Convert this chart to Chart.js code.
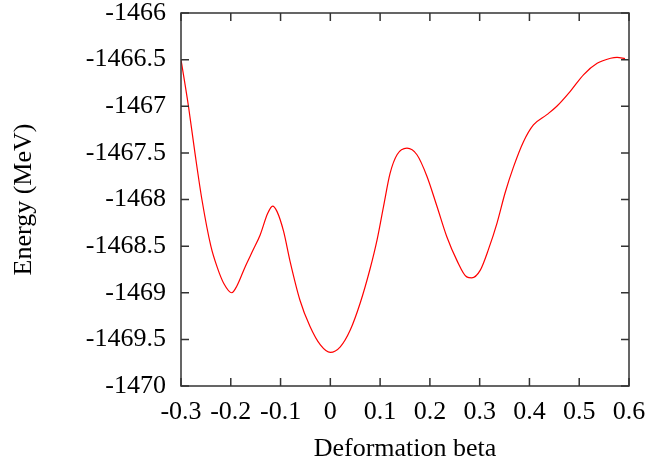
<!DOCTYPE html>
<html>
<head>
<meta charset="utf-8">
<script src="https://cdn.jsdelivr.net/npm/chart.js@4/dist/chart.umd.min.js"></script>
<style>
    html, body { margin: 0; padding: 0; background: #fff; }
    #wrap { width: 652px; height: 465px; }
</style>
</head>
<body>
<div id="wrap"><canvas id="graph"></canvas></div>
<script>
// values
const beta = [-0.3, -0.285, -0.272, -0.258, -0.24, -0.227, -0.214, -0.198, -0.188, -0.171,
    -0.155, -0.141, -0.126, -0.116, -0.107, -0.094, -0.081, -0.061, -0.041, -0.02,
    0.0, 0.02, 0.04, 0.06, 0.08, 0.094, 0.107, 0.12, 0.134, 0.154,
    0.174, 0.194, 0.214, 0.234, 0.254, 0.274, 0.284, 0.301, 0.318, 0.335,
    0.351, 0.368, 0.388, 0.408, 0.435, 0.455, 0.482, 0.509, 0.536, 0.563,
    0.576, 0.592];
const energy = [-1466.5, -1467.0, -1467.5, -1468.0, -1468.5, -1468.73, -1468.9, -1469.0, -1468.93, -1468.72,
    -1468.54, -1468.38, -1468.15, -1468.07, -1468.13, -1468.34, -1468.66, -1469.08, -1469.36, -1469.56,
    -1469.64, -1469.58, -1469.4, -1469.11, -1468.74, -1468.43, -1468.07, -1467.72, -1467.52, -1467.45,
    -1467.52, -1467.75, -1468.07, -1468.4, -1468.65, -1468.83, -1468.84, -1468.76, -1468.53, -1468.25,
    -1467.93, -1467.65, -1467.38, -1467.2, -1467.09, -1467.0, -1466.84, -1466.66, -1466.54, -1466.485,
    -1466.475, -1466.49];

const xTickValues = [-0.3, -0.2, -0.1, 0, 0.1, 0.2, 0.3, 0.4, 0.5, 0.6];
const xTickLabels = ['-0.3', '-0.2', '-0.1', '0', '0.1', '0.2', '0.3', '0.4', '0.5', '0.6'];
const yTickValues = [-1470, -1469.5, -1469, -1468.5, -1468, -1467.5, -1467, -1466.5, -1466];
const yTickLabels = ['-1470', '-1469.5', '-1469', '-1468.5', '-1468', '-1467.5', '-1467', '-1466.5', '-1466'];

const serif = "'Liberation Serif', 'DejaVu Serif', serif";

// gnuplot style box with inward ticks on all four sides
const frame = {
    id: 'frame',
    afterDatasetsDraw(chart) {
        const ctx = chart.ctx;
        const a = chart.chartArea;
        const len = 8;
        ctx.save();
        ctx.strokeStyle = '#333';
        ctx.lineWidth = 1.5;
        ctx.strokeRect(a.left, a.top, a.right - a.left, a.bottom - a.top);
        ctx.beginPath();
        chart.scales.x.ticks.forEach(t => {
            const px = chart.scales.x.getPixelForValue(t.value);
            ctx.moveTo(px, a.bottom); ctx.lineTo(px, a.bottom - len);
            ctx.moveTo(px, a.top); ctx.lineTo(px, a.top + len);
        });
        chart.scales.y.ticks.forEach(t => {
            const py = chart.scales.y.getPixelForValue(t.value);
            ctx.moveTo(a.left, py); ctx.lineTo(a.left + len, py);
            ctx.moveTo(a.right, py); ctx.lineTo(a.right - len, py);
        });
        ctx.stroke();
        ctx.restore();
    }
};

const canvas = document.getElementById('graph');

new Chart(canvas, {
    type: 'line',
    data: {
        datasets: [{
            data: beta.map((b, i) => ({ x: b, y: energy[i] })),
            borderColor: '#ff0000',
            borderWidth: 1.2,
            pointRadius: 0,
            fill: false,
            cubicInterpolationMode: 'monotone'
        }]
    },
    options: {
        responsive: true,
        maintainAspectRatio: false,
        animation: false,
        layout: { padding: { left: 0, top: 13, right: 23, bottom: 0 } },
        plugins: {
            legend: { display: false },
            tooltip: { enabled: false }
        },
        scales: {
            x: {
                type: 'linear',
                min: -0.3,
                max: 0.6,
                afterBuildTicks: scale => { scale.ticks = xTickValues.map(v => ({ value: v })); },
                afterFit: scale => {
                    scale.height = 79;
                    scale.paddingLeft = 0;
                    scale.paddingRight = 0;
                },
                grid: { display: false, drawTicks: false },
                border: { display: false },
                ticks: {
                    autoSkip: false,
                    maxRotation: 0,
                    padding: 11,
                    color: '#000',
                    font: { family: serif, size: 26 },
                    callback: (v, i) => xTickLabels[i]
                },
                title: {
                    display: true,
                    text: 'Deformation beta',
                    color: '#000',
                    font: { family: serif, size: 26 },
                    padding: { top: 6, bottom: 0 }
                }
            },
            y: {
                type: 'linear',
                min: -1470,
                max: -1466,
                afterBuildTicks: scale => { scale.ticks = yTickValues.map(v => ({ value: v })); },
                afterFit: scale => {
                    scale.width = 181;
                    scale.paddingTop = 0;
                    scale.paddingBottom = 0;
                },
                grid: { display: false, drawTicks: false },
                border: { display: false },
                ticks: {
                    autoSkip: false,
                    padding: 15,
                    color: '#000',
                    font: { family: serif, size: 26 },
                    callback: (v, i) => yTickLabels[i]
                },
                title: {
                    display: true,
                    text: 'Energy (MeV)',
                    color: '#000',
                    font: { family: serif, size: 26 },
                    padding: { top: 9, bottom: 0 }
                }
            }
        }
    },
    plugins: [frame]
});
</script>
</body>
</html>
